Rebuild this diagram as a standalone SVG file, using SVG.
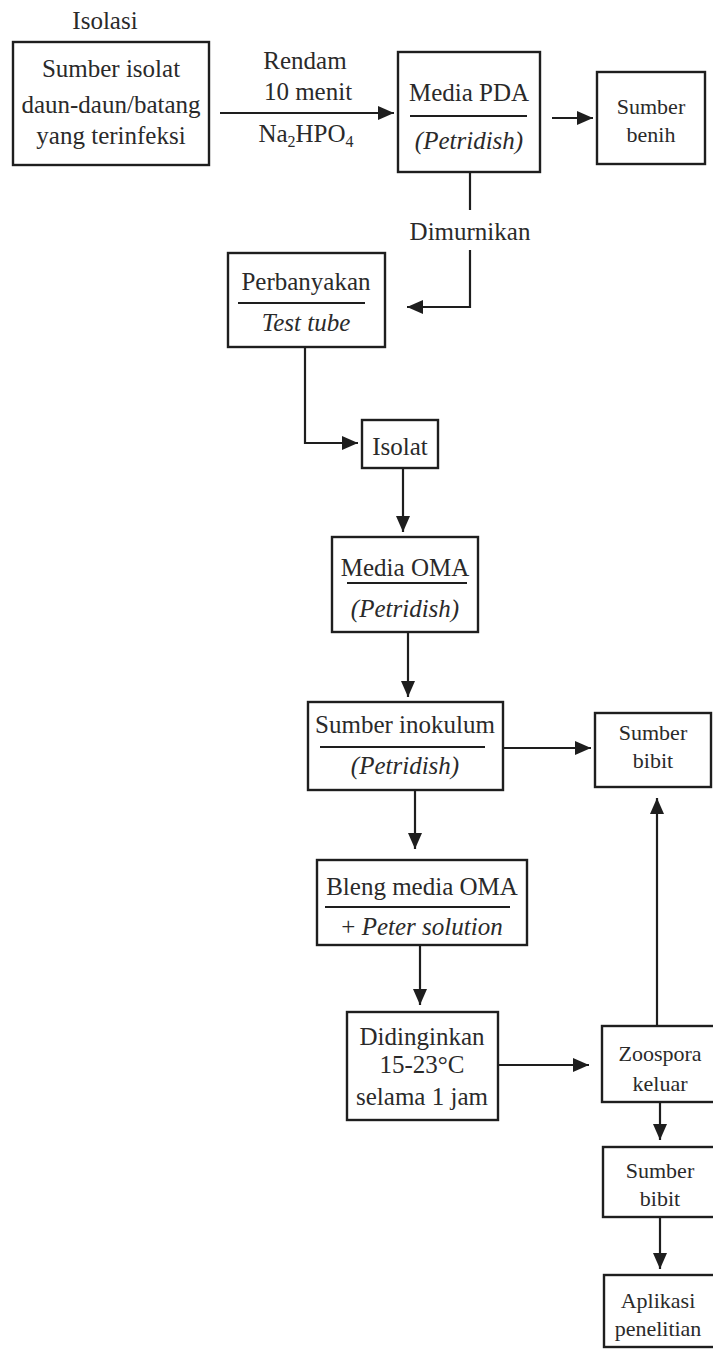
<svg xmlns="http://www.w3.org/2000/svg" width="713" height="1352" viewBox="0 0 713 1352">
<style>
.bx{fill:#fff;stroke:#1e1e1e;stroke-width:2.4}
.dv{stroke:#1e1e1e;stroke-width:2.2}
.t{font-family:"Liberation Serif","Times New Roman",serif;font-size:25px;fill:#2a2a2a;text-anchor:middle}
.s{font-size:22px}
.i{font-style:italic}
.c{fill:none;stroke:#1e1e1e;stroke-width:2.2}
</style>
<defs>
<marker id="ah" markerUnits="userSpaceOnUse" markerWidth="16" markerHeight="14" refX="16" refY="7" orient="auto">
<path d="M0,0 L16,7 L0,14 z" fill="#1e1e1e"/>
</marker>
</defs>
<rect width="713" height="1352" fill="#fff"/>
<g id="connectors">
<path class="c" d="M220,113 H394" marker-end="url(#ah)"/>
<path class="c" d="M552,118 H593" marker-end="url(#ah)"/>
<path class="c" d="M470,172 V210"/>
<path class="c" d="M470,250 V307 H407" marker-end="url(#ah)"/>
<path class="c" d="M305,347 V443 H358" marker-end="url(#ah)"/>
<path class="c" d="M403,468 V532" marker-end="url(#ah)"/>
<path class="c" d="M408,632 V697" marker-end="url(#ah)"/>
<path class="c" d="M503,748 H591" marker-end="url(#ah)"/>
<path class="c" d="M415,790 V849" marker-end="url(#ah)"/>
<path class="c" d="M420,945 V1005" marker-end="url(#ah)"/>
<path class="c" d="M498,1065 H589" marker-end="url(#ah)"/>
<path class="c" d="M657,1026 V798" marker-end="url(#ah)"/>
<path class="c" d="M660,1102 V1140" marker-end="url(#ah)"/>
<path class="c" d="M660,1217 V1269" marker-end="url(#ah)"/>
</g>
<g id="labels">
<text class="t" x="105" y="29">Isolasi</text>
<text class="t" x="305" y="69">Rendam</text>
<text class="t" x="308" y="100">10 menit</text>
<text class="t" x="306" y="142">Na<tspan font-size="16" dy="5">2</tspan><tspan dy="-5">HPO</tspan><tspan font-size="16" dy="5">4</tspan></text>
<text class="t" x="470" y="240">Dimurnikan</text>
</g>
<g id="n-sumber-isolat">
<rect class="bx" x="13" y="42" width="196" height="123"/>
<text class="t" x="111" y="77">Sumber isolat</text>
<text class="t" x="111" y="113">daun-daun/batang</text>
<text class="t" x="111" y="144">yang terinfeksi</text>
</g>
<g id="n-media-pda">
<rect class="bx" x="398" y="52" width="142" height="120"/>
<text class="t" x="469" y="101">Media PDA</text>
<line class="dv" x1="410" y1="116" x2="527" y2="116"/>
<text class="t i" x="469" y="149">(Petridish)</text>
</g>
<g id="n-sumber-benih">
<rect class="bx" x="597" y="72" width="108" height="92"/>
<text class="t s" x="651" y="114">Sumber</text>
<text class="t s" x="651" y="142">benih</text>
</g>
<g id="n-perbanyakan">
<rect class="bx" x="228" y="253" width="157" height="94"/>
<text class="t" x="306" y="290">Perbanyakan</text>
<line class="dv" x1="238" y1="303" x2="365" y2="303"/>
<text class="t i" x="306" y="331">Test tube</text>
</g>
<g id="n-isolat">
<rect class="bx" x="362" y="420" width="76" height="48"/>
<text class="t" x="400" y="455">Isolat</text>
</g>
<g id="n-media-oma">
<rect class="bx" x="332" y="537" width="146" height="95"/>
<text class="t" x="405" y="576">Media OMA</text>
<line class="dv" x1="347" y1="583" x2="467" y2="583"/>
<text class="t i" x="405" y="617">(Petridish)</text>
</g>
<g id="n-sumber-inokulum">
<rect class="bx" x="308" y="702" width="195" height="88"/>
<text class="t" x="405" y="733">Sumber inokulum</text>
<line class="dv" x1="320" y1="747" x2="485" y2="747"/>
<text class="t i" x="405" y="774">(Petridish)</text>
</g>
<g id="n-sumber-bibit-1">
<rect class="bx" x="595" y="713" width="116" height="74"/>
<text class="t s" x="653" y="740">Sumber</text>
<text class="t s" x="653" y="768">bibit</text>
</g>
<g id="n-bleng">
<rect class="bx" x="317" y="860" width="210" height="85"/>
<text class="t" x="422" y="895">Bleng media OMA</text>
<line class="dv" x1="325" y1="907" x2="510" y2="907"/>
<text class="t" x="422" y="935">+ <tspan class="i">Peter solution</tspan></text>
</g>
<g id="n-didinginkan">
<rect class="bx" x="347" y="1012" width="151" height="108"/>
<text class="t" x="422" y="1045">Didinginkan</text>
<text class="t" x="422" y="1073">15-23°C</text>
<text class="t" x="422" y="1105">selama 1 jam</text>
</g>
<g id="n-zoospora">
<rect class="bx" x="602" y="1026" width="130" height="76"/>
<text class="t s" x="660" y="1061">Zoospora</text>
<text class="t s" x="660" y="1091">keluar</text>
</g>
<g id="n-sumber-bibit-2">
<rect class="bx" x="603" y="1147" width="130" height="70"/>
<text class="t s" x="660" y="1178">Sumber</text>
<text class="t s" x="660" y="1206">bibit</text>
</g>
<g id="n-aplikasi">
<rect class="bx" x="604" y="1275" width="130" height="72"/>
<text class="t s" x="658" y="1308">Aplikasi</text>
<text class="t s" x="658" y="1336">penelitian</text>
</g>
</svg>
